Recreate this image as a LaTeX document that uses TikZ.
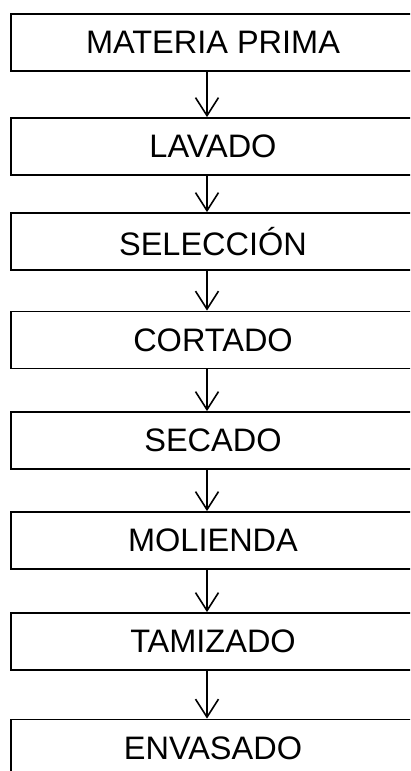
\documentclass[tikz,border=0pt]{standalone}
\usepackage{fontspec}
\setmainfont{Liberation Sans}
\usepackage{tikz}
\usetikzlibrary{arrows.meta}

\begin{document}
\begin{tikzpicture}[x=1pt,y=-1pt,
	procbox/.style={draw=black,line width=1.8pt,minimum width=404pt,minimum height=57pt,inner sep=0pt,
		font=\fontsize{32.5}{38}\selectfont},
	flow/.style={line width=1.6pt,-{Straight Barb[length=18pt,width=23pt,line width=1.6pt]}}]
	\useasboundingbox (0,0) rectangle (410,771);
	\clip (0,0) rectangle (410,771);

	\node[procbox] (mp) at (213,42.5) {MATERIA PRIMA};
	\node[procbox] (lav) at (213,146.5) {LAVADO};
	\node[procbox] (sel) at (213,241.5) {SELECCIÓN};
	\node[procbox] (cor) at (213,340) {CORTADO};
	\node[procbox] (sec) at (213,440.5) {SECADO};
	\node[procbox] (mol) at (213,540.5) {MOLIENDA};
	\node[procbox] (tam) at (213,641.5) {TAMIZADO};
	\node[procbox] (env) at (213,748) {ENVASADO};

	\foreach \a/\b in {mp/lav,lav/sel,sel/cor,cor/sec,sec/mol,mol/tam,tam/env}
		\draw[flow] ([xshift=-6pt]\a.south) -- ([xshift=-6pt]\b.north);
\end{tikzpicture}
\end{document}
